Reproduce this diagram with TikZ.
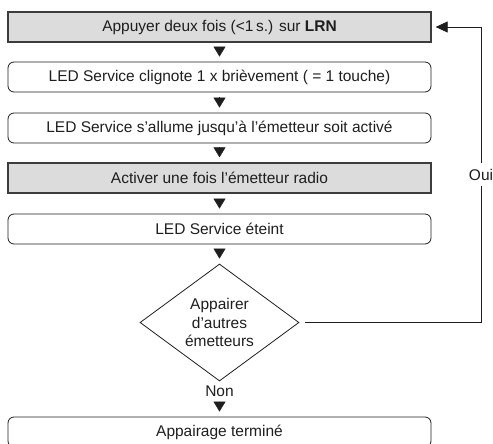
\documentclass[tikz,border=0pt]{standalone}
\usepackage{fontspec}
\setmainfont{Liberation Sans}
\usepackage{tikz}
\usetikzlibrary{shapes.geometric, arrows.meta, positioning}
\definecolor{stepgray}{RGB}{220,220,220}
\definecolor{edgegray}{RGB}{60,60,60}
\definecolor{inkgray}{RGB}{30,30,30}
\tikzset{
  box/.style={rectangle, rounded corners=6pt, draw=inkgray, line width=0.8pt,
              minimum width=423pt, minimum height=30pt, inner sep=0pt,
              font=\fontsize{15.5}{18.5}\selectfont, text=inkgray},
  actionbox/.style={box, sharp corners, draw=edgegray, line width=1.3pt, fill=stepgray},
  decision/.style={diamond, aspect=1.36, draw=inkgray, line width=0.8pt, minimum width=159pt,
                   minimum height=117pt, inner sep=0pt, text width=72pt, align=center,
                   font=\fontsize{15.5}{18.5}\selectfont, text=inkgray},
  arrow/.style={-{Triangle[width=12pt, length=10pt]}, inkgray, shorten <=5pt, shorten >=5pt},
  loopline/.style={-{Triangle[width=11pt, length=12pt]}, inkgray, line width=0.8pt},
}
\begin{document}
\begin{tikzpicture}[x=1pt, y=-1pt]
  \useasboundingbox (0,0) rectangle (493,444);
  % steps
  \node[actionbox] (press) at (219.5,27) {Appuyer deux fois (<1\,s.) sur \textbf{LRN}};
  \node[box] (blink) at (219.5,77) {LED Service clignote 1 x brièvement ( = 1 touche)};
  \node[box] (lit) at (219.5,128) {LED Service s’allume jusqu’à l’émetteur soit activé};
  \node[actionbox] (radio) at (219.5,178) {Activer une fois l’émetteur radio};
  \node[box] (off) at (219.5,229) {LED Service éteint};
  \node[decision] (ask) at (219.5,322.5) {Appairer\\d’autres\\émetteurs};
  \node[box] (done) at (219.5,432) {Appairage terminé};
  \coordinate (rail) at (481,0);
  % arrows
  \foreach \from/\to in {press/blink, blink/lit, lit/radio, radio/off, off/ask}{
    \draw[arrow] (\from) -- (\to);
  }
  \draw[arrow, shorten <=22pt] (ask) -- node[pos=0.27, font=\fontsize{15.5}{18.5}\selectfont, text=inkgray]{Non} (done);
  % back to start
  \draw[loopline] ([xshift=6pt]ask.east) -- (ask.east -| rail)
    -- node[fill=white, inner xsep=1pt, inner ysep=6pt, font=\fontsize{15.5}{18.5}\selectfont, text=inkgray]{Oui} (press.east -| rail)
    -- ([xshift=4pt]press.east);
\end{tikzpicture}
\end{document}
